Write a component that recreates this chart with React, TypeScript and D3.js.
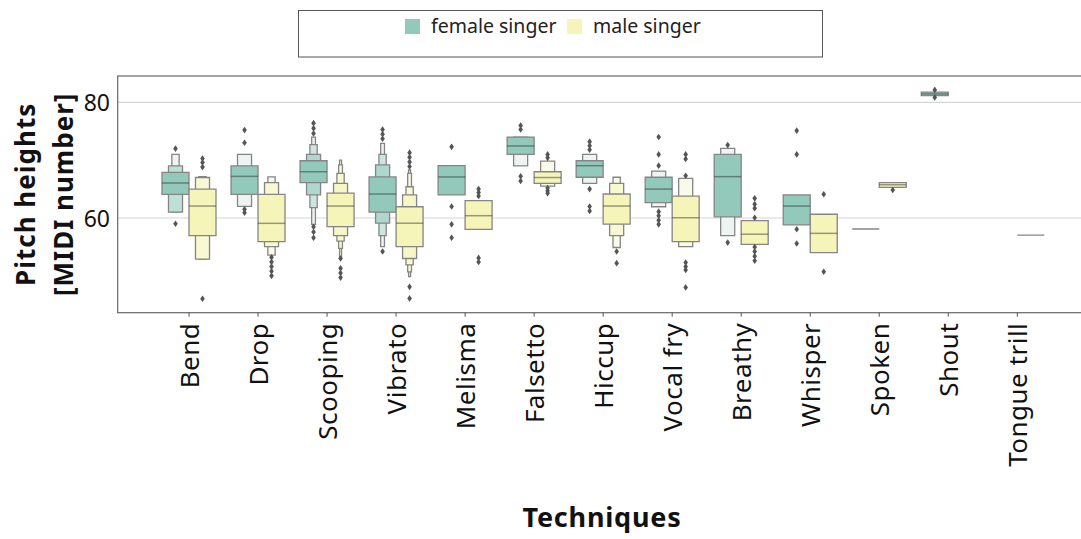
import React from "react";
import * as d3 from "d3";

// Techniques on the x axis
const categories = [
  "Bend", "Drop", "Scooping", "Vibrato", "Melisma", "Falsetto", "Hiccup",
  "Vocal fry", "Breathy", "Whisper", "Spoken", "Shout", "Tongue trill",
];
const hueNames = ["female singer", "male singer"];
const yTicks = [60, 80];

// Letter-value boxes per technique, innermost (quartile box) first: [low, high]
const femaleLevels: [number, number][][] = [
  [[64.1, 67.9], [61.0, 69.0], [61.0, 71.0]],
  [[64.1, 69.0], [62.0, 71.0]],
  [[66.1, 69.9], [64.0, 71.0], [61.8, 72.7], [58.9, 74.0]],
  [[61.0, 67.1], [59.1, 69.2], [56.95, 71.0], [55.05, 72.9]],
  [[64.0, 69.05]],
  [[71.0, 74.0], [69.0, 74.0]],
  [[67.05, 69.9], [66.0, 71.0]],
  [[62.65, 67.05], [61.95, 68.1]],
  [[60.2, 71.0], [56.95, 72.05]],
  [[58.8, 64.0]],
  [[58.1, 58.1]],
  [[81.15, 81.75]],
  [],
];
const femaleMedians: (number | null)[] = [
  66.05, 67.2, 68.0, 64.15, 67.1, 72.45, 69.05, 65.0, 67.15, 62.07, 58.1, 81.45, null,
];
const femaleOutliers: number[][] = [
  [72.0, 59.0],
  [75.2, 73.0, 61.5, 60.9],
  [76.4, 75.5, 74.6, 58.5, 57.6, 56.6],
  [75.3, 74.5, 73.7, 54.2],
  [72.3, 62.0, 58.9, 56.6],
  [76.0, 75.3, 67.2, 66.4],
  [73.2, 72.5, 71.8, 65.0, 62.0, 61.2],
  [74.0, 71.0, 69.05, 61.1, 60.4, 59.6, 58.9],
  [72.6, 55.75],
  [75.1, 71.0, 58.05, 55.6],
  [],
  [82.15, 80.85],
  [],
];

const maleLevels: [number, number][][] = [
  [[56.95, 65.0], [52.9, 67.0], [52.9, 67.15]],
  [[55.9, 64.1], [55.05, 66.1], [53.6, 67.1]],
  [[58.5, 64.3], [56.95, 66.0], [56.0, 67.7], [54.75, 69.2], [53.3, 70.0]],
  [[55.05, 61.95], [53.0, 64.0], [51.9, 65.4], [50.7, 67.7], [49.85, 68.3]],
  [[58.05, 63.0]],
  [[66.0, 68.0], [65.5, 69.85]],
  [[58.95, 64.15], [56.95, 66.0], [54.9, 67.05]],
  [[55.9, 63.8], [55.05, 66.85]],
  [[55.45, 59.55]],
  [[54.0, 60.65]],
  [[65.3, 66.1]],
  [],
  [[57.05, 57.05]],
];
const maleMedians: (number | null)[] = [
  62.07, 59.08, 62.07, 59.1, 60.4, 67.0, 62.07, 60.05, 57.2, 57.35, 65.75, null, 57.05,
];
const maleOutliers: number[][] = [
  [70.3, 69.6, 68.8, 46.05],
  [53.2, 52.4, 51.6, 50.8, 50.0],
  [53.0, 51.3, 50.5, 49.7],
  [71.3, 70.5, 69.7, 68.9, 48.1, 46.1],
  [65.0, 64.4, 63.8, 53.1, 52.4],
  [71.0, 70.4, 65.2, 64.7, 64.3],
  [54.2, 52.2],
  [71.0, 70.2, 67.3, 52.3, 51.6, 51.0, 48.0],
  [63.4, 62.4, 61.7, 60.05, 55.0, 54.2, 53.4, 52.6],
  [64.1, 50.7],
  [64.85],
  [],
  [],
];

const hueColors = ["#92c9bb", "#f5f5ba"];
const hueLight = ["#edf4f2", "#fafaea"];

const W = 1081;
const H = 539;
const plot = { left: 117.7, right: 1086, top: 76, bottom: 312.7 };
const FONT = "'Noto Sans', 'Liberation Sans', sans-serif";

export default function App() {
  const x = d3.scalePoint<string>().domain(categories).range([189, 1017.3]);
  const hueX = d3.scaleBand<string>().domain(hueNames).range([-27, 27]);
  const y = d3.scaleLinear().domain([43.63, 84.55]).range([plot.bottom, plot.top]);
  const boxW = hueX.bandwidth();

  const groups = [
    { levels: femaleLevels, medians: femaleMedians, outliers: femaleOutliers },
    { levels: maleLevels, medians: maleMedians, outliers: maleOutliers },
  ];

  const diamond = "M0,-3.3L2.3,0L0,3.3L-2.3,0Z";

  const marks: React.ReactNode[] = [];
  categories.forEach((cat, ci) => {
    groups.forEach((g, hi) => {
      const cx = (x(cat) as number) + (hueX(hueNames[hi]) as number) + boxW / 2;
      const levels = g.levels[ci];
      const k = levels.length;
      const shade = d3.interpolateRgb(hueColors[hi], hueLight[hi]);
      // outermost (narrowest, lightest) first so wider inner boxes sit on top
      for (let li = k - 1; li >= 0; li--) {
        const [lo, hiV] = levels[li];
        const w = boxW * Math.pow(0.52, li);
        const p = d3.path();
        p.rect(cx - w / 2, y(hiV), w, y(lo) - y(hiV));
        const fill = k === 1 ? hueColors[hi] : shade(li / (k - 1));
        marks.push(
          <path
            key={`b-${ci}-${hi}-${li}`}
            d={p.toString()}
            fill={fill}
            stroke="#858585"
            strokeWidth={1.3}
          />
        );
      }
      const med = g.medians[ci];
      if (med !== null && k > 0 && levels[0][1] - levels[0][0] > 0.01) {
        marks.push(
          <line
            key={`m-${ci}-${hi}`}
            x1={cx - boxW / 2}
            x2={cx + boxW / 2}
            y1={y(med)}
            y2={y(med)}
            stroke="#262626"
            strokeOpacity={0.45}
            strokeWidth={1.5}
          />
        );
      }
      g.outliers[ci].forEach((v, oi) => {
        marks.push(
          <path
            key={`o-${ci}-${hi}-${oi}`}
            d={diamond}
            transform={`translate(${cx},${y(v)})`}
            fill="#555555"
          />
        );
      });
    });
  });

  return (
    <svg
      width={W}
      height={H}
      style={{ position: "absolute", left: 0, top: 0, background: "#fff" }}
      fontFamily={FONT}
    >
      {/* grid */}
      {yTicks.map((t) => (
        <line
          key={`g-${t}`}
          x1={plot.left}
          x2={plot.right}
          y1={y(t)}
          y2={y(t)}
          stroke="#d6d6d6"
          strokeWidth={1.2}
        />
      ))}
      {marks}
      {/* frame */}
      <rect
        x={plot.left}
        y={plot.top}
        width={plot.right - plot.left}
        height={plot.bottom - plot.top}
        fill="none"
        stroke="#666"
        strokeWidth={1.2}
      />
      {/* y tick labels */}
      {yTicks.map((t) => (
        <text
          key={`yt-${t}`}
          x={110}
          y={y(t)}
          textAnchor="end"
          dominantBaseline="central"
          fontSize={23}
          fill="#111"
        >
          {t}
        </text>
      ))}
      {/* x ticks and labels */}
      {categories.map((c) => (
        <g key={`xt-${c}`} transform={`translate(${x(c)},${plot.bottom})`}>
          <line y1={0} y2={4} stroke="#555" strokeWidth={1} />
          <text
            transform="translate(0,10) rotate(-90)"
            textAnchor="end"
            dominantBaseline="central"
            fontSize={26}
            letterSpacing={0.5}
            fill="#111"
          >
            {c}
          </text>
        </g>
      ))}
      {/* axis titles */}
      <text
        transform={`translate(25,${(plot.top + plot.bottom) / 2}) rotate(-90)`}
        textAnchor="middle"
        dominantBaseline="central"
        fontSize={26}
        letterSpacing={1}
        fontWeight="bold"
        fill="#111"
      >
        Pitch heights
      </text>
      <text
        transform={`translate(63,${(plot.top + plot.bottom) / 2}) rotate(-90)`}
        textAnchor="middle"
        dominantBaseline="central"
        fontSize={26}
        letterSpacing={1}
        fontWeight="bold"
        fill="#111"
      >
        [MIDI number]
      </text>
      <text
        x={602}
        y={527}
        textAnchor="middle"
        fontSize={27}
        letterSpacing={0.8}
        fontWeight="bold"
        fill="#111"
      >
        Techniques
      </text>
      {/* legend */}
      <rect x={298.5} y={10.5} width={524} height={46.5} fill="#fff" stroke="#555" strokeWidth={1} />
      {hueNames.map((name, i) => {
        const sx = i === 0 ? 405 : 567;
        return (
          <g key={`lg-${name}`}>
            <rect x={sx} y={19} width={15} height={15} fill={hueColors[i]} />
            <text x={sx + 26} y={33} fontSize={19.5} fill="#222">
              {name}
            </text>
          </g>
        );
      })}
    </svg>
  );
}
